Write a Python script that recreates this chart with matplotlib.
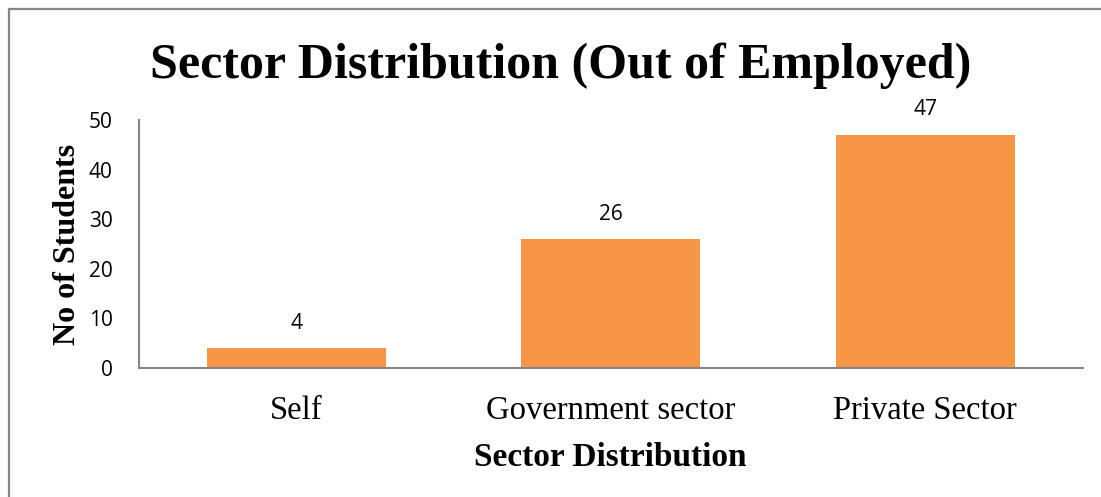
import matplotlib
matplotlib.use("Agg")
import matplotlib.pyplot as plt
from matplotlib.patches import Rectangle

categories = ["Self", "Government sector", "Private Sector"]
values = [4, 26, 47]
yticks = [0, 10, 20, 30, 40, 50]

fig = plt.figure(figsize=(11.01, 4.97), dpi=100)
ax = fig.add_axes([0.1262, 0.2596, 0.857, 0.499])

x = list(range(len(categories)))
bars = ax.bar(x, values, width=0.57, color="#F79646", zorder=2)
ax.set_xlim(-0.5, len(categories) - 0.5)
ax.set_ylim(0, 50)
ax.set_yticks(yticks)
ax.set_yticklabels([str(t) for t in yticks], family="Open Sans", fontsize=15)
ax.set_xticks(x)
ax.set_xticklabels(categories, family="Liberation Serif", fontsize=23.5)
ax.tick_params(axis="both", length=0)
ax.tick_params(axis="y", pad=19)
ax.tick_params(axis="x", pad=20)

for s in ["top", "right"]:
    ax.spines[s].set_visible(False)
for s in ["left", "bottom"]:
    ax.spines[s].set_color("#868686")
    ax.spines[s].set_linewidth(1.5)

for xi, v in zip(x, values):
    ax.annotate(str(v), (xi, v), xytext=(0, 18), textcoords="offset points",
                ha="center", va="center", family="Open Sans", fontsize=15)

ax.set_xlabel("Sector Distribution", family="Liberation Serif", fontweight="bold",
              fontsize=24, labelpad=11)
ax.set_ylabel("No of Students", family="Liberation Serif", fontweight="bold",
              fontsize=23, labelpad=5)

fig.text(0.5095, 0.868, "Sector Distribution (Out of Employed)", ha="center", va="center",
         family="Liberation Serif", fontweight="bold", fontsize=36)

fig.patches.append(Rectangle((9 / 1101, -0.05), 1.05, 1 - 9 / 497 + 0.05,
                             transform=fig.transFigure, fill=False,
                             edgecolor="#868686", linewidth=1.6))

fig.savefig("out.png", dpi=100)
